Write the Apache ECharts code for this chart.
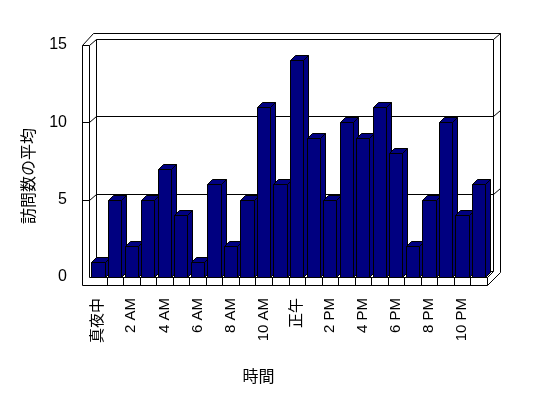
<!DOCTYPE html>
<html>
<head>
<meta charset="utf-8">
<script src="https://cdn.jsdelivr.net/npm/echarts@6/dist/echarts.min.js"></script>
<style>
html, body { margin: 0; padding: 0; background: #fff; }
#chart-container { width: 548px; height: 398px; }
</style>
</head>
<body>
<div id="chart-container"></div>
<script>
var hours = ['真夜中', '1 AM', '2 AM', '3 AM', '4 AM', '5 AM', '6 AM', '7 AM', '8 AM', '9 AM', '10 AM', '11 AM',
	'正午', '1 PM', '2 PM', '3 PM', '4 PM', '5 PM', '6 PM', '7 PM', '8 PM', '9 PM', '10 PM', '11 PM'];
var visits = [1, 5, 2, 5, 7, 4, 1, 6, 2, 5, 11, 6, 14, 9, 5, 10, 9, 11, 8, 2, 5, 10, 4, 6];
var yTicks = [0, 5, 10, 15];

var font = '"Liberation Sans", "Noto Sans CJK JP", sans-serif';
var D = [6, -6]; // depth of the plot box
var px = v => Math.round(v) + 0.5;

function line(x1, y1, x2, y2) {
	return {
		type: 'line',
		shape: { x1: px(x1), y1: px(y1), x2: px(x2), y2: px(y2) },
		style: { stroke: '#000', lineWidth: 1 }
	};
}

// walls, floor and back gridlines
function renderFrame(params, api) {
	var bw = api.size([1, 0])[0];
	var L = api.coord([0, 0])[0] - bw / 2;
	var R = api.coord([hours.length - 1, 0])[0] + bw / 2;
	var B = api.coord([0, yTicks[0]])[1];
	var T = api.coord([0, yTicks[yTicks.length - 1]])[1];
	var c = [];
	// back wall
	c.push({
		type: 'rect',
		shape: { x: px(L + D[0]), y: px(T + D[1]), width: Math.round(R - L), height: Math.round(B - T) },
		style: { fill: '#fff', stroke: '#000', lineWidth: 1 }
	});
	c.push(line(L + 3, T + 2 * D[1], R + 2 * D[0] + 1, T + 2 * D[1]));
	c.push(line(R + 2 * D[0] + 1, T + 2 * D[1], R + 2 * D[0] + 1, B - 5));
	c.push(line(R + D[0], T + D[1], R + 2 * D[0] + 1, T + 2 * D[1]));
	// left wall
	c.push(line(L - 1, T, L - 1, B));
	c.push(line(L - 8, T, L - 8, B + 8));
	c.push(line(L - 8, T, L - 1, T));
	c.push(line(L - 8, T, L + 3, T + 2 * D[1]));
	c.push(line(L - 1, T, L + D[0], T + D[1]));
	// gridlines
	yTicks.slice(1, -1).forEach(v => {
		var y = api.coord([0, v])[1];
		c.push(line(L - 8, y, L - 1, y));
		c.push(line(L - 1, y, L + D[0], y + D[1]));
		c.push(line(L + D[0], y + D[1], R + D[0], y + D[1]));
		c.push(line(R + D[0], y + D[1], R + 2 * D[0] + 1, y + 2 * D[1]));
	});
	// floor
	c.push(line(L - 1, B, R, B));
	c.push(line(L - 8, B + 8, R, B + 8));
	for (var i = 1; i <= hours.length; i++) {
		c.push(line(L + i * bw, B, L + i * bw, B + 8));
	}
	c.push(line(R, B, R + D[0], B + D[1]));
	c.push(line(R, B + 8, R + 2 * D[0] + 1, B - 5));
	return { type: 'group', children: c };
}

function renderBar(params, api) {
	var bw = api.size([1, 0])[0];
	var top = api.coord([api.value(0), api.value(1)]);
	var base = api.coord([api.value(0), 0]);
	var l = px(top[0] - bw * 0.41), r = px(top[0] + bw * 0.39);
	var t = px(top[1]), b = px(base[1]);
	var dx = 5, dy = -5;
	var st = { fill: '#000080', stroke: '#000', lineWidth: 1 };
	return {
		type: 'group',
		children: [
			{ type: 'polygon', shape: { points: [[l, t], [r, t], [r, b], [l, b]] }, style: st },
			{ type: 'polygon', shape: { points: [[l, t], [l + dx, t + dy], [r + dx, t + dy], [r, t]] }, style: st },
			{ type: 'polygon', shape: { points: [[r, t], [r + dx, t + dy], [r + dx, b + dy], [r, b]] }, style: st }
		]
	};
}

var dom = document.getElementById('chart-container');
var myChart = echarts.init(dom, null, { renderer: 'canvas' });

var option = {
	animation: false,
	backgroundColor: '#fff',
	grid: { left: 90, right: 61, top: 45, bottom: 121 },
	xAxis: {
		type: 'category',
		data: hours,
		axisLine: { show: false },
		axisTick: { show: false },
		axisLabel: {
			interval: 1,
			rotate: 90,
			margin: 21,
			fontSize: 15,
			fontFamily: font,
			color: '#000'
		},
		name: '時間',
		nameLocation: 'middle',
		nameGap: 93,
		nameTextStyle: { fontSize: 16, fontFamily: font, color: '#000', padding: [0, 60, 0, 0] }
	},
	yAxis: {
		type: 'value',
		min: 0,
		max: 15,
		interval: 5,
		axisLine: { show: false },
		axisTick: { show: false },
		splitLine: { show: false },
		axisLabel: { margin: 23, fontSize: 16, fontFamily: font, color: '#000' },
		name: '訪問数の平均',
		nameLocation: 'middle',
		nameRotate: 90,
		nameGap: 52,
		nameTextStyle: { fontSize: 16, fontFamily: font, color: '#000', padding: [0, 30, 0, 0] }
	},
	series: [
		{
			type: 'custom',
			renderItem: renderFrame,
			data: [[0, 0]],
			silent: true,
			z: 1
		},
		{
			type: 'custom',
			renderItem: renderBar,
			data: visits.map((v, i) => [i, v]),
			z: 2
		}
	]
};

myChart.setOption(option);
</script>
</body>
</html>
